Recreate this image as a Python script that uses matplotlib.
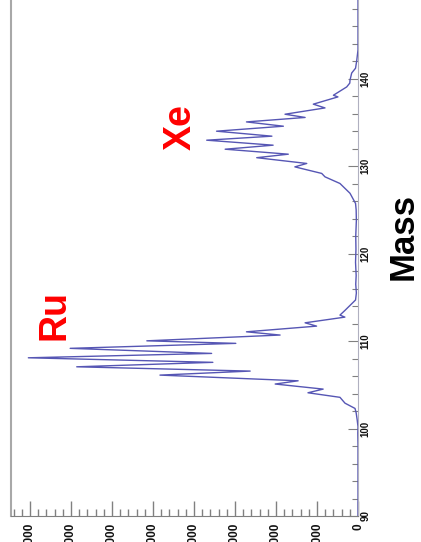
import matplotlib
matplotlib.use('Agg')
import matplotlib.pyplot as plt
from matplotlib.ticker import MultipleLocator

plt.rcParams['font.family'] = ['Liberation Sans', 'DejaVu Sans']

# mass spectrum, mass ascending
mass = [90.0, 98.0, 99.5, 100.2, 101.0, 101.8, 102.3, 102.9, 103.57,
        104.09, 104.51, 105.09, 105.46, 106.11, 106.57, 107.06, 107.57,
        108.09, 108.59, 109.17, 109.74, 110.03, 110.69, 111.06, 111.71,
        112.09, 112.74, 112.97, 113.5, 114.7, 115.5, 116.5, 117.5, 119.0,
        120.5, 122.0, 123.8, 125.0, 125.74, 126.9, 128.02, 128.78, 129.17,
        129.92, 130.31, 130.97, 131.37, 131.94, 132.4, 132.97, 133.43,
        134.0, 134.57, 135.06, 135.57, 135.94, 136.66, 137.09, 137.92,
        138.11, 139.06, 139.5, 139.83, 140.65, 141.2, 142.1, 143.3, 149.0]
counts = [0, 0, 5, 0, 20, 45, 73, 317, 440,
          1220, 850, 2020, 1460, 4830, 2630, 6860, 3540,
          8040, 3570, 7020, 2980, 5150, 1900, 2720, 1010,
          1290, 320, 440, 320, 60, 40, 55, 45, 60,
          50, 55, 40, 45, 60, 195, 440, 805, 885,
          1540, 1250, 2470, 1700, 3240, 2070, 3690, 2100,
          3450, 1820, 2720, 1290, 1780, 805, 1090, 490,
          600, 276, 200, 195, 154, 60, 30, 0, 0]

elements = ['Ru', 'Xe']
label_pos = [(7400, 113.0), (4320, 134.5)]

fig = plt.figure(figsize=(4.21, 5.42), dpi=100)
ax = fig.add_axes([11 / 421, 26 / 542, 347 / 421, 516 / 542])

ax.plot(counts, mass, color='#5656b4', lw=1.0)

ax.set_xlim(8463, 0)
ax.set_ylim(90, 149)

ax.spines['top'].set_visible(False)
ax.spines['left'].set_color('#a8a8a8')
ax.spines['left'].set_linewidth(1.5)
ax.spines['bottom'].set_color('#808080')
ax.spines['right'].set_color('#b0b0c0')
ax.spines['right'].set_linewidth(0.8)

ax.yaxis.tick_right()
ax.xaxis.set_major_locator(MultipleLocator(1000))
ax.xaxis.set_minor_locator(MultipleLocator(200))
ax.yaxis.set_major_locator(MultipleLocator(10))
ax.yaxis.set_minor_locator(MultipleLocator(2))

ax.tick_params(axis='x', which='major', direction='in', length=11, width=1,
               color='#808080', pad=5, labelsize=8.5, labelrotation=90,
               labelcolor='#111111')
ax.tick_params(axis='x', which='minor', direction='in', length=5, width=1,
               color='#808080')
ax.tick_params(axis='y', which='major', direction='in', length=7, width=0.8,
               color='#808080', pad=2, labelsize=7, labelrotation=90,
               labelcolor='#111111')
ax.tick_params(axis='y', which='minor', direction='in', length=4, width=0.8,
               color='#808080')
for t in ax.get_xticklabels() + ax.get_yticklabels():
    t.set_fontweight('bold')
for t in ax.get_xticklabels():
    t.set_va('top')
for t in ax.get_yticklabels():
    t.set_va('center')
    t.set_ha('left')

for name, (cx, my) in zip(elements, label_pos):
    ax.text(cx, my, name, color='red', fontsize=27, fontweight='bold',
            rotation=90, ha='center', va='center')

fig.text(403 / 421, 1 - 237 / 542, 'Mass', fontsize=25, fontweight='bold',
         rotation=90, ha='center', va='center')

fig.savefig('out.png', dpi=100)
